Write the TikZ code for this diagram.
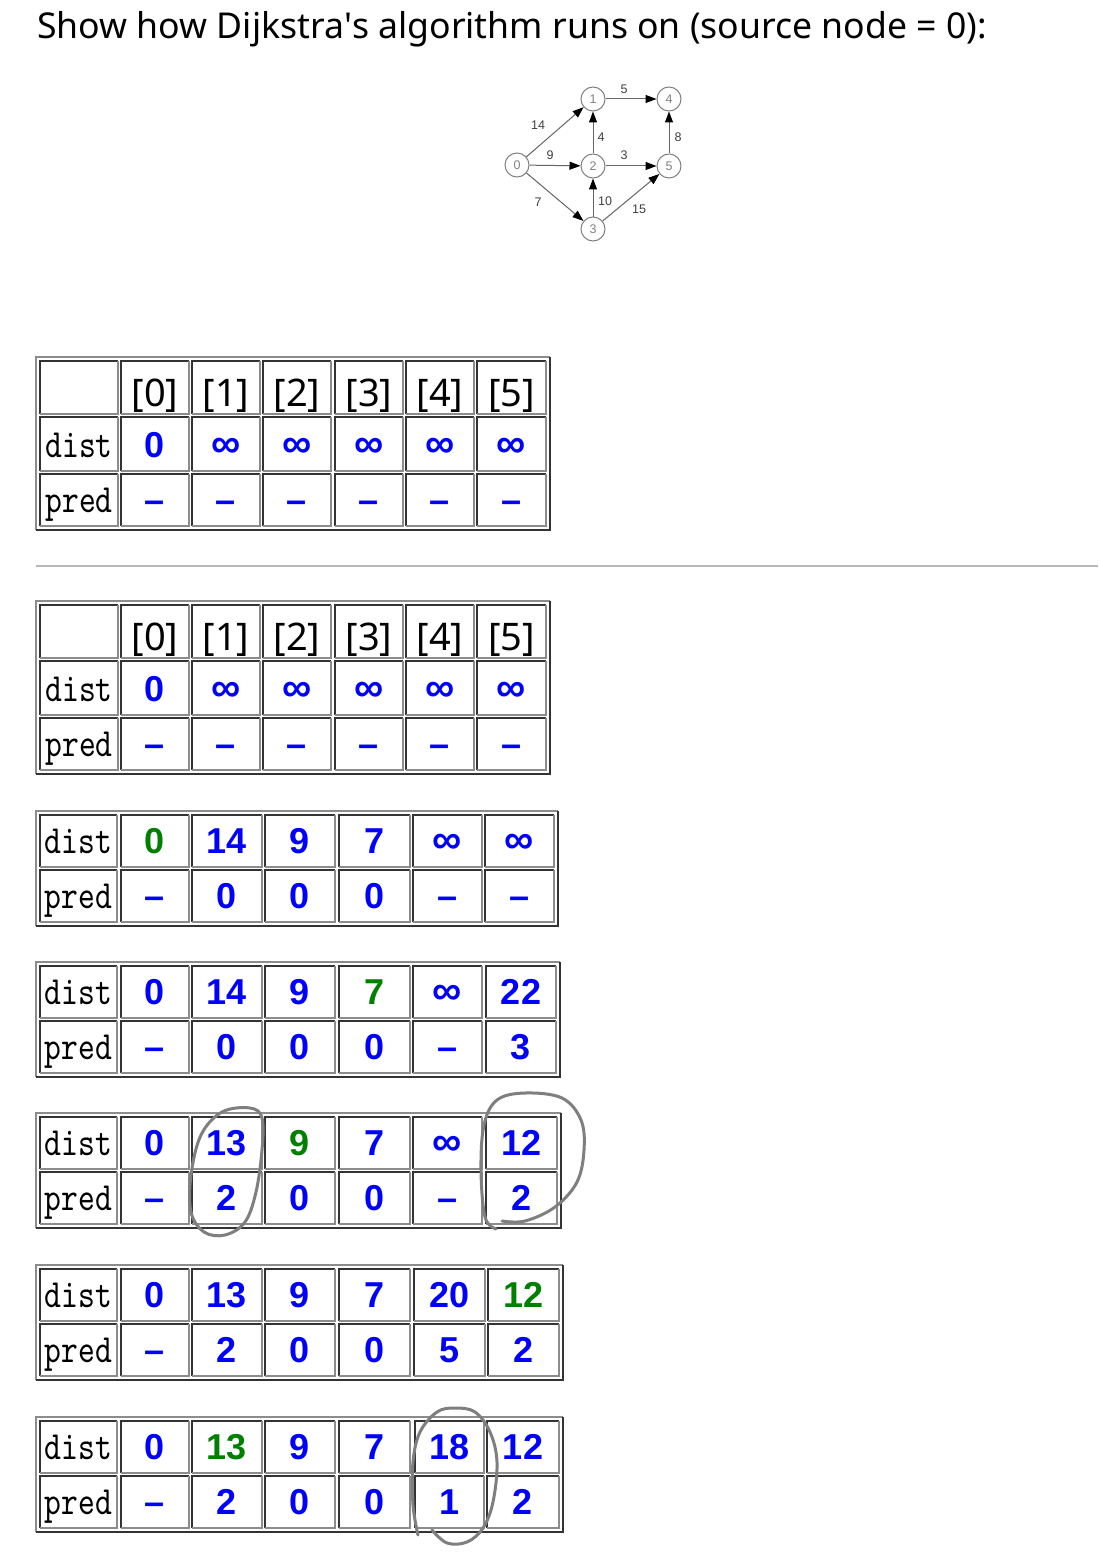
\documentclass[tikz,border=0pt]{standalone}
\usepackage{fontspec}
\setmainfont{Noto Sans}
\newfontfamily\valfont{Liberation Sans}
\newfontfamily\graphfont{Liberation Sans}
\newfontfamily\lblfont{lmmono10-regular.otf}[FakeStretch=0.8]
\usetikzlibrary{arrows.meta}

\definecolor{valblue}{HTML}{0000FF}
\definecolor{valgreen}{HTML}{008000}
\definecolor{edgedark}{HTML}{333333}
\definecolor{edgelight}{HTML}{8C8C8C}
\definecolor{markgray}{HTML}{7F7F7F}

% cell contents
\newcommand\gv[1]{\textcolor{valgreen}{#1}}
\newcommand\inft{{\fontsize{41}{44}\selectfont ∞}}
\newcommand\hd[1]{{\color{black}\rmfamily\mdseries\fontsize{38}{44}\selectfont #1}}
\newcommand\lbl[1]{{\color{black}\lblfont\mdseries\fontsize{40}{44}\selectfont #1}}

% raised table frame, then one row of sunken cells
\newcommand\tabframe[4]{%
  \draw[lightedge] (#1,#4) |- (#3,#2);
  \draw[darkedge] (#1,#4) -| (#3,#2);}
\newcommand\tabrow[5]{%
  \foreach \xa/\xb/\txt [count=\i] in {#5} {
    \draw[darkedge] (\xa,#3) |- (\xb,#2);
    \draw[lightedge] (\xa,#3) -| (\xb,#2);
    \node[celltext] (#1-\i) at ({(\xa+\xb)/2},#3-#4) {\txt};
  }}

\begin{document}
\begin{tikzpicture}[x=1pt,y=-1pt,
    darkedge/.style={draw=edgedark,line width=2pt},
    lightedge/.style={draw=edgelight,line width=2pt},
    celltext/.style={anchor=base,inner sep=0pt,text=valblue,font=\valfont\fontsize{36}{40}\selectfont\bfseries},
    vertex/.style={circle,draw=gray,line width=1pt,minimum size=24pt,inner sep=0pt,text=gray,font=\graphfont\fontsize{12.5}{14}\selectfont},
    wedge/.style={draw=gray!80!black,line width=1pt,-{Triangle[length=11pt,width=8pt,black]}},
    wlbl/.style={midway,inner sep=0pt,text=black!75,font=\graphfont\fontsize{12.5}{14}\selectfont},
    handmark/.style={draw=markgray,line width=3pt,line cap=round,line join=round}]
  \fill[white] (0,0) rectangle (1098,1557);
  \useasboundingbox (0,0) rectangle (1098,1557);

  % Title
  \node[anchor=base west,inner sep=0pt,font=\fontsize{35.6}{42}\selectfont] (title) at (37,39)
    {Show how Dijkstra\textquotesingle s algorithm runs on (source node = 0):};

  % Graph
  \node[vertex] (n0) at (517,165) {0};
  \node[vertex] (n1) at (593,99) {1};
  \node[vertex] (n2) at (593,166) {2};
  \node[vertex] (n3) at (593,229) {3};
  \node[vertex] (n4) at (669,99) {4};
  \node[vertex] (n5) at (669,166) {5};
  \draw[wedge] (n0) -- (n1) node[wlbl,xshift=-17pt,yshift=7pt] {14};
  \draw[wedge] (n0) -- (n2) node[wlbl,xshift=-5pt,yshift=10pt] {9};
  \draw[wedge] (n0) -- (n3) node[wlbl,xshift=-17pt,yshift=-5pt] {7};
  \draw[wedge] (n1) -- (n4) node[wlbl,xshift=-7pt,yshift=10pt] {5};
  \draw[wedge] (n2) -- (n1) node[wlbl,xshift=8pt,yshift=-5pt] {4};
  \draw[wedge] (n2) -- (n5) node[wlbl,xshift=-7pt,yshift=11pt] {3};
  \draw[wedge] (n5) -- (n4) node[wlbl,xshift=9pt,yshift=-5pt] {8};
  \draw[wedge] (n3) -- (n2) node[wlbl,xshift=12pt,yshift=-4pt] {10};
  \draw[wedge] (n3) -- (n5) node[wlbl,xshift=8pt,yshift=-12pt] {15};

  % Initial table
  \tabframe{36}{357}{550}{530}
  \tabrow{t1h}{361}{414}{8}{40/118/{}, 121/189/\hd{[0]}, 192/260/\hd{[1]}, 263/331/\hd{[2]}, 335/403/\hd{[3]}, 406/474/\hd{[4]}, 477/546/\hd{[5]}}
  \tabrow{t1d}{417}{471}{14}{40/118/\lbl{dist}, 121/189/0, 192/260/\inft, 263/331/\inft, 335/403/\inft, 406/474/\inft, 477/546/\inft}
  \tabrow{t1p}{474}{526}{14}{40/118/\lbl{pred}, 121/189/–, 192/260/–, 263/331/–, 335/403/–, 406/474/–, 477/546/–}

  \draw[gray!55,line width=1.5pt] (36,566) -- (1098,566);

  % Steps
  \tabframe{36}{601}{550}{774}
  \tabrow{t2h}{605}{658}{8}{40/118/{}, 121/189/\hd{[0]}, 192/260/\hd{[1]}, 263/331/\hd{[2]}, 335/403/\hd{[3]}, 406/474/\hd{[4]}, 477/546/\hd{[5]}}
  \tabrow{t2d}{661}{715}{14}{40/118/\lbl{dist}, 121/189/0, 192/260/\inft, 263/331/\inft, 335/403/\inft, 406/474/\inft, 477/546/\inft}
  \tabrow{t2p}{718}{770}{14}{40/118/\lbl{pred}, 121/189/–, 192/260/–, 263/331/–, 335/403/–, 406/474/–, 477/546/–}

  \tabframe{36}{811}{558}{926}
  \tabrow{t3d}{815}{867}{14}{40/117/\lbl{dist}, 121/189/\gv{0}, 192/262/14, 265/335/9, 339/410/7, 413/482/\inft, 485/554/\inft}
  \tabrow{t3p}{870}{922}{14}{40/117/\lbl{pred}, 121/189/–, 192/262/0, 265/335/0, 339/410/0, 413/482/–, 485/554/–}

  \tabframe{36}{962}{560}{1077}
  \tabrow{t4d}{966}{1018}{14}{40/117/\lbl{dist}, 121/189/0, 192/262/14, 265/335/9, 339/410/\gv{7}, 413/482/\inft, 486/556/22}
  \tabrow{t4p}{1021}{1073}{14}{40/117/\lbl{pred}, 121/189/–, 192/262/0, 265/335/0, 339/410/0, 413/482/–, 486/556/3}

  \tabframe{36}{1113}{561}{1228}
  \tabrow{t5d}{1117}{1169}{14}{40/117/\lbl{dist}, 121/189/0, 192/262/13, 265/335/\gv{9}, 339/410/7, 413/482/\inft, 486/557/12}
  \tabrow{t5p}{1172}{1224}{14}{40/117/\lbl{pred}, 121/189/–, 192/262/2, 265/335/0, 339/410/0, 413/482/–, 486/557/2}

  \tabframe{36}{1265}{563}{1380}
  \tabrow{t6d}{1269}{1321}{14}{40/117/\lbl{dist}, 121/189/0, 192/262/13, 265/335/9, 339/410/7, 414/485/20, 488/559/\gv{12}}
  \tabrow{t6p}{1324}{1376}{14}{40/117/\lbl{pred}, 121/189/–, 192/262/2, 265/335/0, 339/410/0, 414/485/5, 488/559/2}

  \tabframe{36}{1417}{563}{1532}
  \tabrow{t7d}{1421}{1473}{14}{40/117/\lbl{dist}, 121/189/0, 192/262/\gv{13}, 265/335/9, 339/410/7, 415/484/18, 487/559/12}
  \tabrow{t7p}{1476}{1528}{14}{40/117/\lbl{pred}, 121/189/–, 192/262/2, 265/335/0, 339/410/0, 415/484/1, 487/559/2}

  % Hand-drawn marks
  \draw[handmark] plot[smooth cycle,tension=0.6] coordinates {(250,1108) (222,1112) (201,1135) (191,1175) (191,1212) (204,1232) (225,1235) (245,1222) (256,1192) (262,1150) (262,1118)};
  \draw[handmark] plot[smooth,tension=0.6] coordinates {(496,1229) (485,1217) (481,1170) (484,1125) (497,1100) (525,1093) (562,1098) (581,1120) (584,1150) (577,1182) (555,1207) (525,1221) (502,1221)};
  \draw[handmark] plot[smooth,tension=0.6] coordinates {(418,1535) (413,1505) (413,1462) (420,1432) (437,1412) (455,1408) (475,1412) (490,1432) (497,1462) (493,1502) (483,1528) (467,1542) (447,1543) (432,1530)};
\end{tikzpicture}
\end{document}
